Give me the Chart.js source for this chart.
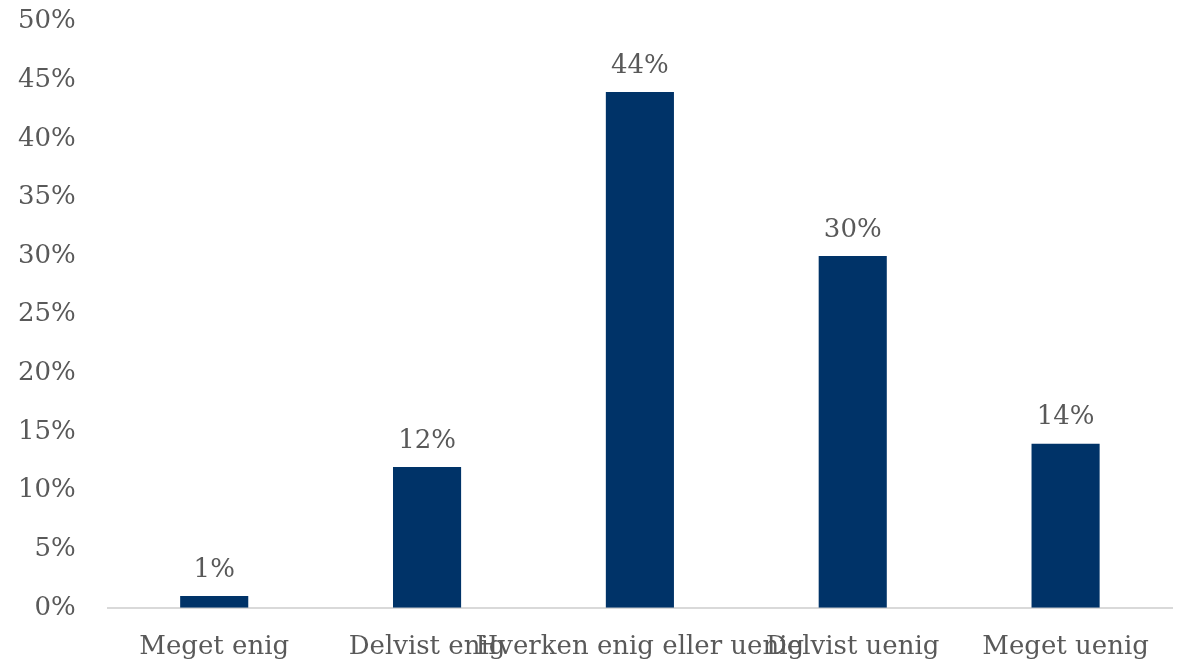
<!DOCTYPE html>
<html>
<head>
<meta charset="utf-8">
<script src="https://cdn.jsdelivr.net/npm/chart.js@4"></script>
<style>
  html,body{margin:0;padding:0;background:#fff;}
  #wrap{width:1182px;height:663px;position:relative;overflow:hidden;}
  #inner{width:1182px;height:689px;margin-top:-26px;position:relative;}
</style>
</head>
<body>
<div id="wrap"><div id="inner"><canvas id="c"></canvas></div></div>
<script>
const categories = ['Meget enig','Delvist enig','Hverken enig eller uenig','Delvist uenig','Meget uenig'];
const shares = [1, 12, 44, 30, 14];
const BAR='#003368', TXT='#595959', AXIS='#d9d9d9';
const FONT="'DejaVu Serif', serif";

// value labels above each bar
const barLabels = {
  id:'barLabels',
  afterDatasetsDraw(chart){
    const {ctx} = chart;
    const meta = chart.getDatasetMeta(0);
    ctx.save();
    ctx.font = '26px '+FONT;
    ctx.fillStyle = TXT;
    ctx.textAlign = 'center';
    ctx.textBaseline = 'bottom';
    meta.data.forEach((bar,i) => {
      ctx.fillText(shares[i]+'%', bar.x, bar.y - 13);
    });
    ctx.restore();
  }
};

new Chart(document.getElementById('c'), {
  type:'bar',
  data:{labels:categories, datasets:[{
    data:shares, backgroundColor:BAR, barPercentage:0.32, categoryPercentage:1
  }]},
  options:{
    responsive:true, maintainAspectRatio:false, animation:false,
    layout:{padding:{top:0,left:-14,right:10,bottom:-24}},
    plugins:{legend:{display:false}, tooltip:{enabled:false}},
    scales:{
      x:{
        grid:{display:false, drawTicks:false},
        border:{color:AXIS, width:2},
        ticks:{color:TXT, font:{family:FONT,size:26}, autoSkip:false, maxRotation:0, padding:24}
      },
      y:{
        min:0, max:50,
        grid:{display:false, drawTicks:false},
        border:{display:false},
        ticks:{stepSize:5, color:TXT, font:{family:FONT,size:26}, padding:32, callback:v=>v+'%'}
      }
    }
  },
  plugins:[barLabels]
});
</script>
</body>
</html>
